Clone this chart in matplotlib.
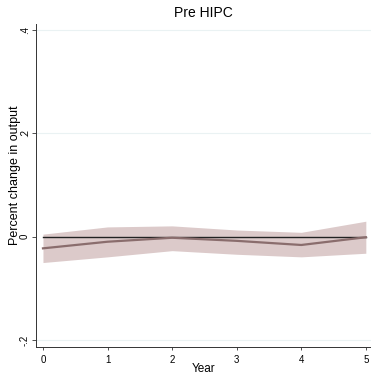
import matplotlib
matplotlib.use("Agg")
import matplotlib.pyplot as plt

years = [0, 1, 2, 3, 4, 5]
estimate = [-0.0225, -0.0097, -0.002, -0.008, -0.016, -0.001]
upper = [0.005, 0.019, 0.021, 0.013, 0.0085, 0.030]
lower = [-0.050, -0.039, -0.027, -0.034, -0.039, -0.032]
yticks = [-0.2, 0, 0.2, 0.4]
ytick_labels = ["-.2", "0", ".2", ".4"]

plt.rcParams['font.family'] = ['Liberation Sans', 'DejaVu Sans']

fig = plt.figure(figsize=(3.71, 3.76), dpi=100)
ax = fig.add_axes([36/371, 29/376, 1 - 36/371, (347-24)/376])

for yv in yticks:
    if yv != 0:
        ax.axhline(yv, color='#eaf2f3', lw=0.8, zorder=0)

ax.fill_between(years, lower, upper, color='#dccaca', lw=0, zorder=1)
ax.plot(years, [0]*len(years), color='#222222', lw=1.0, zorder=2)
ax.plot(years, estimate, color='#8a6d6d', lw=1.6, zorder=3)

ax.set_xlim(-0.108, 5.08)
ax.set_ylim(-0.2136, 0.412)
ax.set_xticks(years)
ax.set_yticks(yticks)
ax.set_yticklabels(ytick_labels, rotation=90, va='center')
ax.tick_params(axis='x', labelsize=7, length=2.3, width=0.6, color='#333333', pad=3.2)
ax.tick_params(axis='y', labelsize=7, length=3, width=0.6, color='#333333', pad=1.5)

for s in ['top', 'right']:
    ax.spines[s].set_visible(False)
for s in ['left', 'bottom']:
    ax.spines[s].set_linewidth(0.7)
    ax.spines[s].set_color('#333333')

ax.set_xlabel("Year", fontsize=8.5)
ax.xaxis.set_label_coords((204 - 36) / 335, -(369 - 347) / 323)
ax.xaxis.label.set_va('center')
ax.set_ylabel("Percent change in output", fontsize=9)
ax.yaxis.set_label_coords((15 - 36) / 335, (347 - 175) / 323)
ax.yaxis.label.set_va('center')
fig.text(0.5 + 18/371, 1 - 13/376, "Pre HIPC", ha='center', va='center', fontsize=10)

fig.savefig("out.png", dpi=100)
